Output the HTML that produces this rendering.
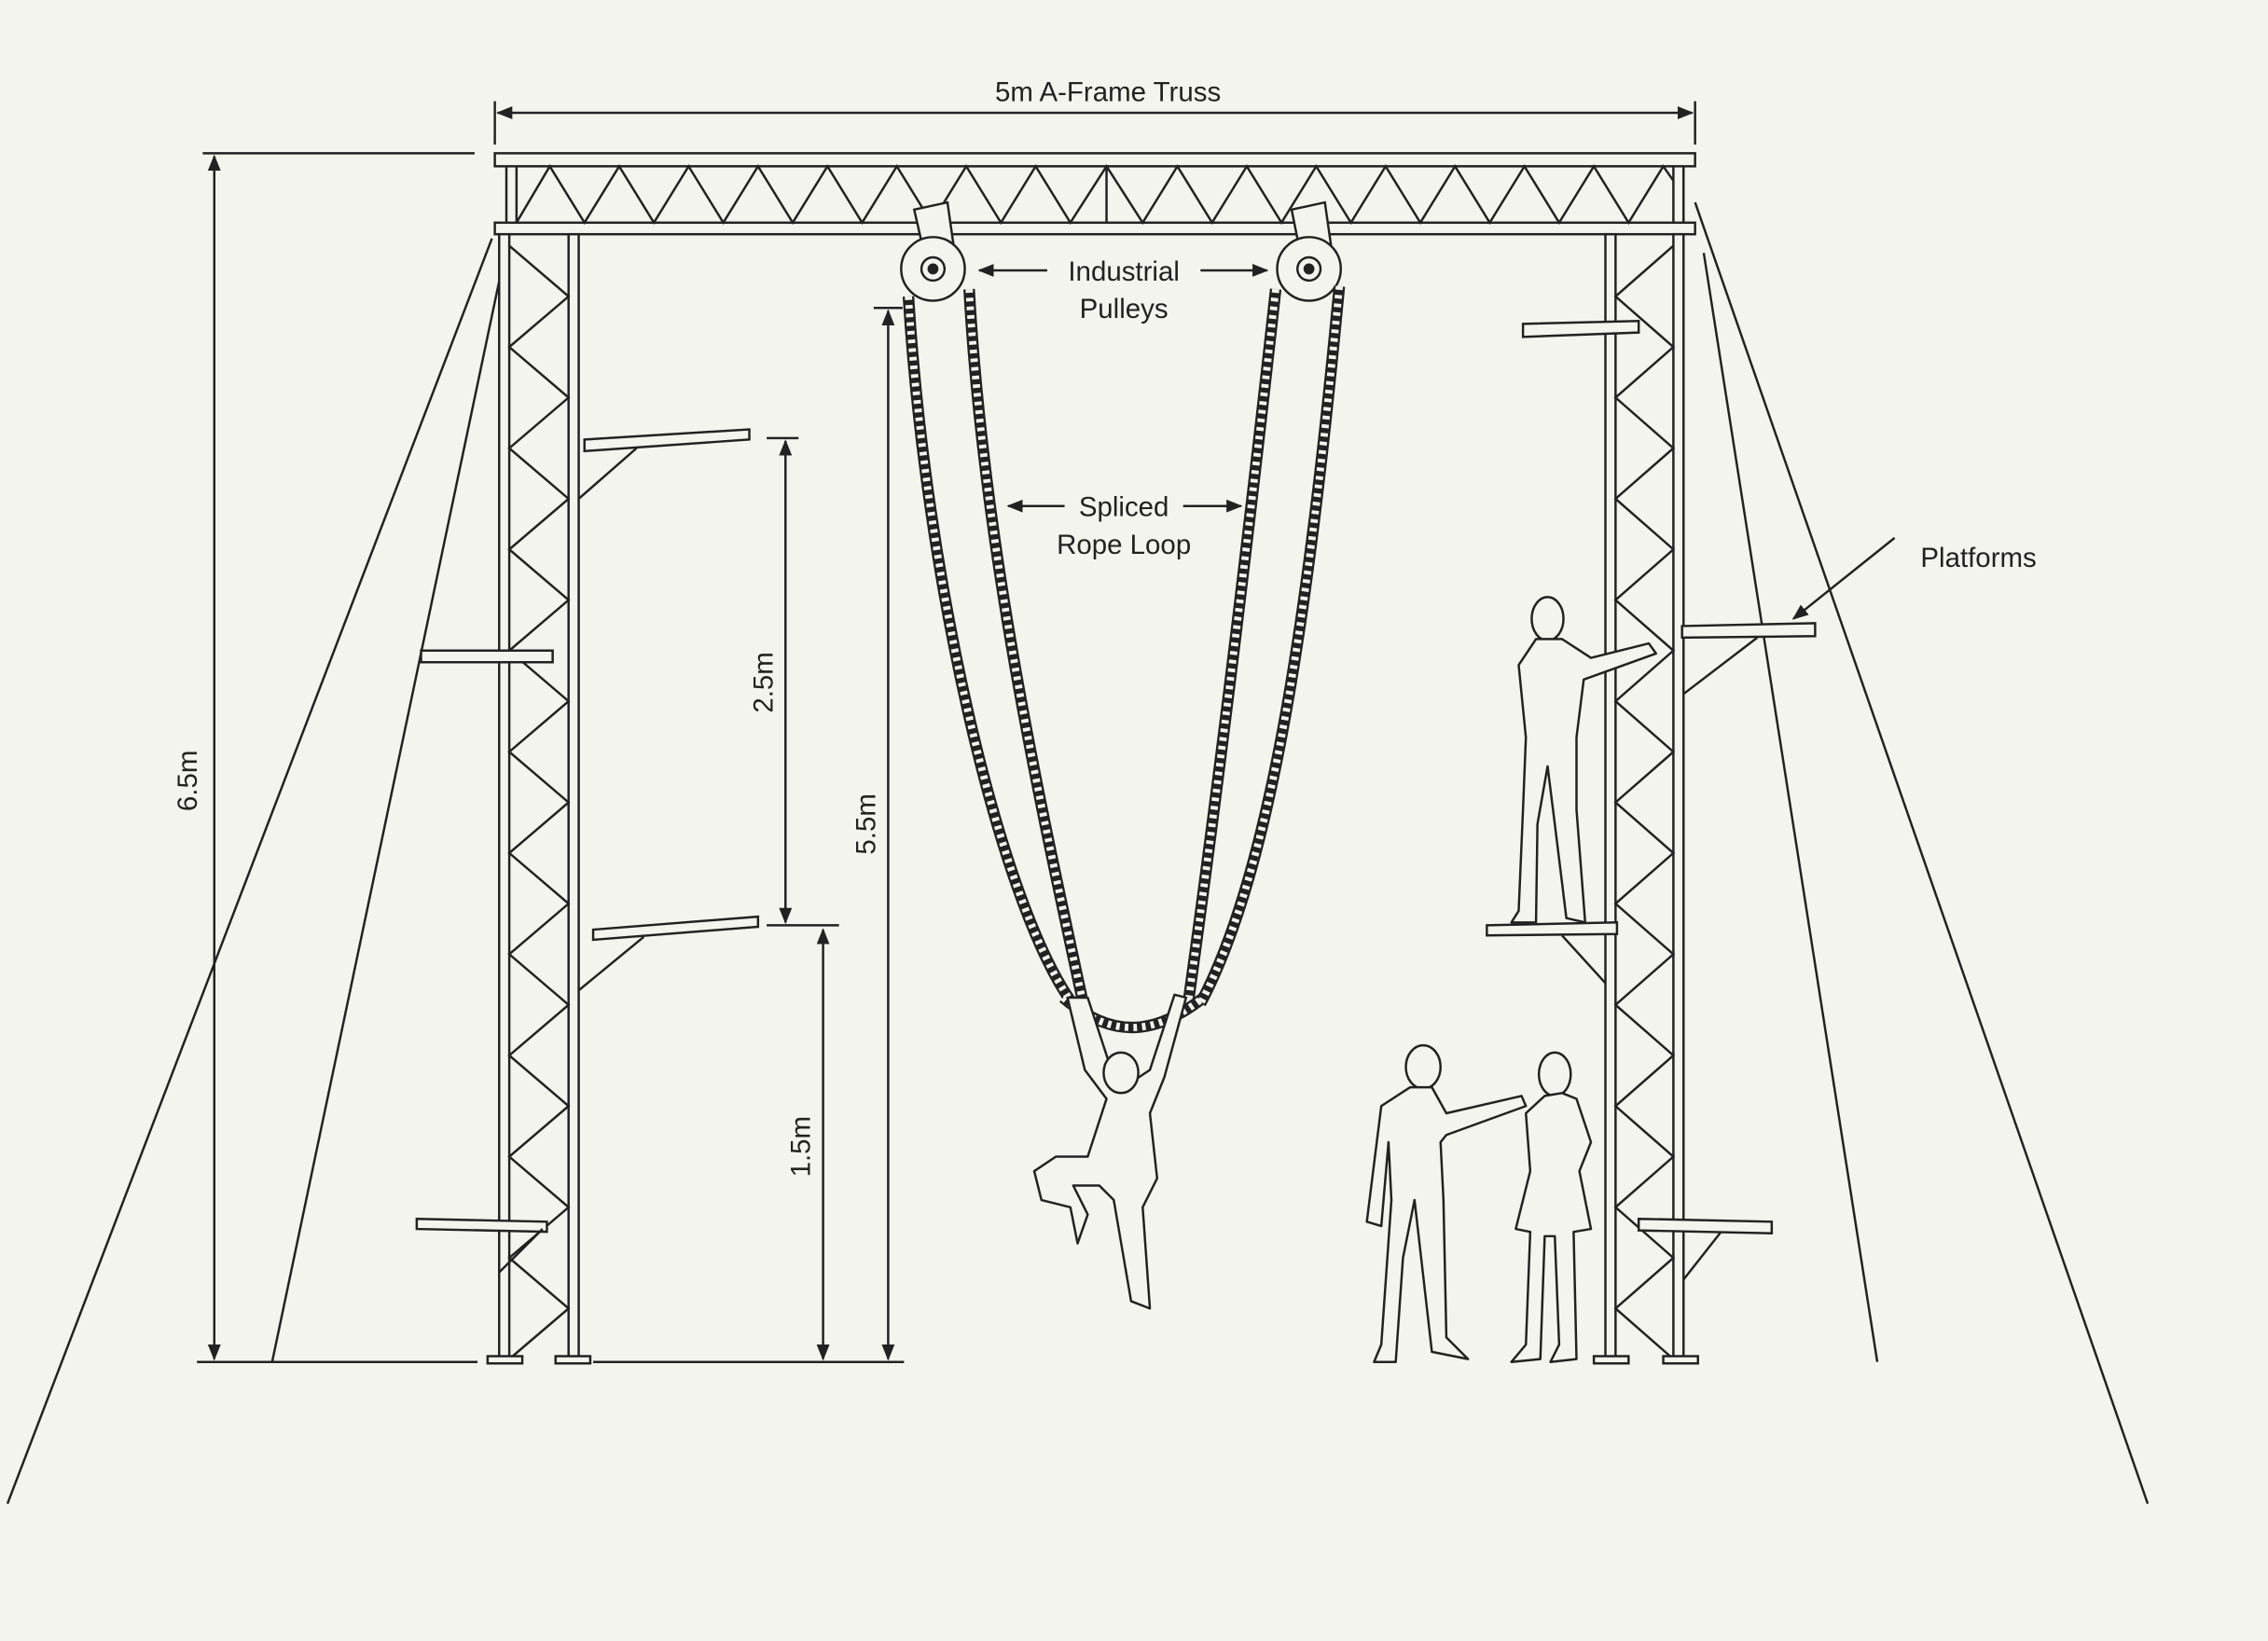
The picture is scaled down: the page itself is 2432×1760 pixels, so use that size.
<!DOCTYPE html>
<html><head><meta charset="utf-8"><style>
html,body{margin:0;padding:0;background:#f4f4ee;}
svg{display:block}
text{font-family:"Liberation Sans",sans-serif;fill:#222;font-size:19px}
</style></head><body>
<svg width="2432" height="1760" viewBox="0 0 1568 1135" xmlns="http://www.w3.org/2000/svg">
<defs>
<marker id="a" viewBox="0 0 10 10" refX="9" refY="5" markerWidth="7" markerHeight="7" orient="auto-start-reverse"><path d="M0,1 L10,5 L0,9 z" fill="#222"/></marker>
</defs>
<rect width="1568" height="1135" fill="#f4f4ee"/>
<g stroke="#222" stroke-width="1.6" fill="none">
<line x1="340" y1="165" x2="5" y2="1040"/>
<line x1="347" y1="185" x2="188" y2="942"/>
<line x1="1172" y1="140" x2="1485" y2="1040"/>
<line x1="1178" y1="175" x2="1298" y2="942"/>
<line x1="344" y1="78" x2="1170" y2="78" marker-start="url(#a)" marker-end="url(#a)"/>
<line x1="342" y1="70" x2="342" y2="100"/><line x1="1172" y1="70" x2="1172" y2="100"/>
<rect x="342" y="106" width="830" height="9" fill="#f4f4ee"/>
<rect x="342" y="154" width="830" height="8" fill="#f4f4ee"/>
<line x1="350" y1="115" x2="350" y2="154"/><line x1="357" y1="115" x2="357" y2="154"/>
<line x1="1157" y1="115" x2="1157" y2="154"/><line x1="1164" y1="115" x2="1164" y2="154"/>
<line x1="765" y1="115" x2="765" y2="154"/>
<polyline points="357,154 380,115 404,154 428,115 452,154 476,115 500,154 524,115 548,154 572,115 596,154 620,115 644,154 668,115 692,154 716,115 740,154 765,115 790,154 814,115 838,154 862,115 886,154 910,115 934,154 958,115 982,154 1006,115 1030,154 1054,115 1078,154 1102,115 1126,154 1150,115 1157,125"/>
<!-- left tower -->
<rect x="345" y="162" width="7" height="778" fill="#f4f4ee"/>
<rect x="393" y="162" width="7" height="778" fill="#f4f4ee"/>
<polyline points="352,170 393,205 352,240 393,275 352,310 393,345 352,380 393,415 352,450 393,485 352,520 393,555 352,590 393,625 352,660 393,695 352,730 393,765 352,800 393,835 352,870 393,905 352,940"/>
<rect x="337" y="938" width="24" height="5" fill="#f4f4ee"/>
<rect x="384" y="938" width="24" height="5" fill="#f4f4ee"/>
<!-- right tower -->
<rect x="1110" y="162" width="7" height="778" fill="#f4f4ee"/>
<rect x="1157" y="162" width="7" height="778" fill="#f4f4ee"/>
<polyline points="1157,170 1117,205 1157,240 1117,275 1157,310 1117,345 1157,380 1117,415 1157,450 1117,485 1157,520 1117,555 1157,590 1117,625 1157,660 1117,695 1157,730 1117,765 1157,800 1117,835 1157,870 1117,905 1157,940"/>
<rect x="1102" y="938" width="24" height="5" fill="#f4f4ee"/>
<rect x="1150" y="938" width="24" height="5" fill="#f4f4ee"/>
<!-- left platforms -->
<polygon points="404,304 518,297 518,304 404,312" fill="#f4f4ee"/><line x1="400" y1="345" x2="440" y2="310"/>
<polygon points="291,450 382,450 382,458 291,458" fill="#f4f4ee"/>
<polygon points="410,643 524,634 524,641 410,650" fill="#f4f4ee"/><line x1="400" y1="685" x2="445" y2="648"/>
<polygon points="288,843 378,845 378,852 288,850" fill="#f4f4ee"/><line x1="345" y1="880" x2="375" y2="850"/>
<!-- right platforms -->
<polygon points="1053,224 1133,222 1133,230 1053,233" fill="#f4f4ee"/>
<polygon points="1163,433 1255,431 1255,440 1163,441" fill="#f4f4ee"/><line x1="1164" y1="480" x2="1215" y2="441"/>
<polygon points="1028,640 1118,638 1118,646 1028,647" fill="#f4f4ee"/><line x1="1110" y1="680" x2="1080" y2="647"/>
<polygon points="1133,843 1225,845 1225,853 1133,851" fill="#f4f4ee"/><line x1="1164" y1="885" x2="1190" y2="852"/>
<!-- dimension lines -->
<line x1="148" y1="108" x2="148" y2="940" marker-start="url(#a)" marker-end="url(#a)"/>
<line x1="140" y1="106" x2="328" y2="106"/><line x1="136" y1="942" x2="330" y2="942"/>
<line x1="543" y1="305" x2="543" y2="638" marker-start="url(#a)" marker-end="url(#a)"/>
<line x1="530" y1="303" x2="552" y2="303"/><line x1="530" y1="640" x2="580" y2="640"/>
<line x1="569" y1="643" x2="569" y2="940" marker-start="url(#a)" marker-end="url(#a)"/>
<line x1="410" y1="942" x2="625" y2="942"/>
<line x1="614" y1="215" x2="614" y2="940" marker-start="url(#a)" marker-end="url(#a)"/>
<line x1="604" y1="213" x2="624" y2="213"/>
<line x1="724" y1="187" x2="677" y2="187" marker-end="url(#a)"/>
<line x1="830" y1="187" x2="876" y2="187" marker-end="url(#a)"/>
<line x1="736" y1="350" x2="697" y2="350" marker-end="url(#a)"/>
<line x1="818" y1="350" x2="858" y2="350" marker-end="url(#a)"/>
<line x1="1310" y1="372" x2="1240" y2="428" marker-end="url(#a)"/>
<path d="M632,145 L655,140 L660,175 L640,180 Z" fill="#f4f4ee"/>
<circle cx="645" cy="186" r="22" fill="#f4f4ee"/><circle cx="645" cy="186" r="8"/><circle cx="645" cy="186" r="3" fill="#222"/>
<path d="M893,145 L916,140 L921,175 L900,180 Z" fill="#f4f4ee"/>
<circle cx="905" cy="186" r="22" fill="#f4f4ee"/><circle cx="905" cy="186" r="8"/><circle cx="905" cy="186" r="3" fill="#222"/>
</g>
<!-- ropes -->
<g fill="none" stroke-linecap="butt">
<g stroke="#222" stroke-width="8"><path d="M628,205 C640,400 690,620 740,692"/><path d="M670,200 C680,380 720,560 748,690"/><path d="M882,200 C860,400 840,560 822,690"/><path d="M926,198 C905,420 880,600 830,694"/><path d="M735,690 C770,720 800,715 832,690"/></g>
<g stroke="#f4f4ee" stroke-width="5" stroke-dasharray="2.5 3.5"><path d="M628,205 C640,400 690,620 740,692"/><path d="M670,200 C680,380 720,560 748,690"/><path d="M882,200 C860,400 840,560 822,690"/><path d="M926,198 C905,420 880,600 830,694"/><path d="M735,690 C770,720 800,715 832,690"/></g>
</g>
<!-- people -->
<g stroke="#222" stroke-width="1.6" fill="#f4f4ee" stroke-linejoin="round">
<path d="M738,690 L750,740 L765,760 L752,800 L730,800 L715,810 L720,830 L740,835 L745,860 L752,840 L742,820 L760,820 L770,830 L782,900 L795,905 L790,835 L800,815 L795,770 L805,745 L820,690 L812,688 L795,740 L780,750 L770,745 L752,690 Z"/>
<ellipse cx="775" cy="742" rx="12" ry="14"/>
<ellipse cx="1070" cy="428" rx="11" ry="15"/>
<path d="M1062,442 L1050,460 L1055,510 L1053,560 L1050,630 L1045,638 L1062,638 L1063,570 L1070,530 L1075,570 L1083,635 L1096,638 L1090,560 L1090,510 L1095,470 L1145,452 L1140,445 L1100,455 L1080,442 Z"/>
<ellipse cx="984" cy="738" rx="12" ry="15"/>
<path d="M975,752 L955,765 L945,845 L955,848 L960,790 L962,830 L955,930 L950,942 L965,942 L970,870 L978,830 L990,935 L1015,940 L1000,925 L998,830 L996,790 L1000,785 L1055,765 L1052,758 L1000,770 L990,752 Z"/>
<ellipse cx="1075" cy="743" rx="11" ry="15"/>
<path d="M1068,758 L1055,770 L1058,810 L1048,850 L1058,852 L1055,930 L1045,942 L1065,940 L1068,855 L1075,855 L1078,930 L1072,942 L1090,940 L1088,852 L1100,850 L1092,810 L1100,790 L1090,760 L1080,756 Z"/>
</g>
<text x="766" y="70" text-anchor="middle" font-size="20">5m A-Frame Truss</text>
<text x="777" y="194" text-anchor="middle">Industrial</text>
<text x="777" y="220" text-anchor="middle">Pulleys</text>
<text x="777" y="357" text-anchor="middle">Spliced</text>
<text x="777" y="383" text-anchor="middle">Rope Loop</text>
<text x="1368" y="392" text-anchor="middle">Platforms</text>
<text transform="translate(136,540) rotate(-90)" text-anchor="middle">6.5m</text>
<text transform="translate(534,472) rotate(-90)" text-anchor="middle">2.5m</text>
<text transform="translate(560,793) rotate(-90)" text-anchor="middle">1.5m</text>
<text transform="translate(605,570) rotate(-90)" text-anchor="middle">5.5m</text>
</svg>
</body></html>
